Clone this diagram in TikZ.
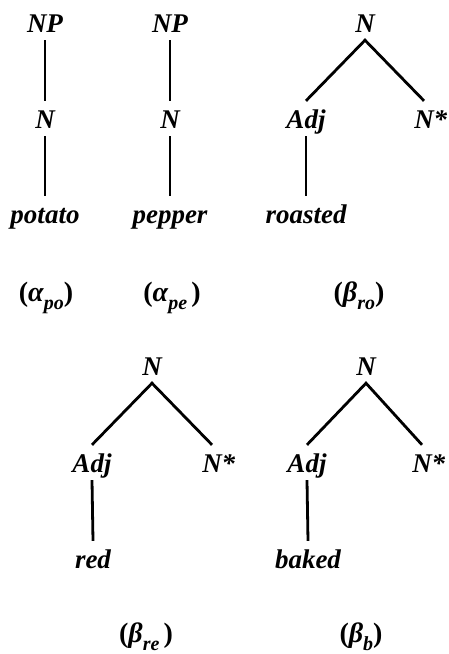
\documentclass[tikz,border=0pt]{standalone}
\usepackage{fontspec}
\setmainfont{Liberation Serif}

\newcommand{\treesub}[1]{\raisebox{-8pt}{\fontsize{20}{20}\selectfont\itshape #1}}

\begin{document}
\begin{tikzpicture}[x=1pt, y=-1pt,
    cat/.style={font=\fontsize{27}{27}\selectfont\bfseries\itshape, anchor=base,
        text height=24pt, text depth=5pt, inner sep=3pt},
    branch/.style={line width=2.8pt},
    tag/.style={font=\fontsize{28}{28}\selectfont\bfseries, anchor=base, inner sep=0pt}]
    \useasboundingbox (0,0) rectangle (449,654);

    % 1. alpha_po
    \node[cat] (np1) at (45,32) {NP};
    \node[cat] (n1) at (45,128) {N};
    \node[cat] (w1) at (45,223) {potato};
    \draw[branch] (np1.south) -- (n1.north);
    \draw[branch] (n1.south) -- (w1.north);
    \node[tag] (t1) at (46,301) {(\textit{α}\treesub{po})};

    % 2. alpha_pe
    \node[cat] (np2) at (170,32) {NP};
    \node[cat] (n2) at (170,128) {N};
    \node[cat] (w2) at (170,223) {pepper};
    \draw[branch] (np2.south) -- (n2.north);
    \draw[branch] (n2.south) -- (w2.north);
    \node[tag] (t2) at (172,301) {(\textit{α}\treesub{pe}\hspace{4pt})};

    % 3. beta_ro
    \node[cat] (n3) at (365,32) {N};
    \node[cat] (adj3) at (306,128) {Adj};
    \node[cat] (ns3) at (424,128) {N\rlap{*}};
    \node[cat] (w3) at (306,223) {roasted};
    \draw[branch] (adj3.north) -- (n3.south) -- (ns3.north);
    \draw[branch] (adj3.south) -- (w3.north);
    \node[tag] (t3) at (359,301) {(\textit{β}\treesub{ro})};

    % 4. beta_re
    \node[cat] (n4) at (152,375) {N};
    \node[cat] (adj4) at (92,472) {Adj};
    \node[cat] (ns4) at (212,472) {N\rlap{*}};
    \node[cat] (w4) at (93,568) {red};
    \draw[branch] (adj4.north) -- (n4.south) -- (ns4.north);
    \draw[branch] (adj4.south) -- (w4.north);
    \node[tag] (t4) at (146,642) {(\textit{β}\treesub{re}\hspace{4pt})};

    % 5. beta_b
    \node[cat] (n5) at (366,375) {N};
    \node[cat] (adj5) at (307,472) {Adj};
    \node[cat] (ns5) at (422,472) {N\rlap{*}};
    \node[cat] (w5) at (308,568) {baked};
    \draw[branch] (adj5.north) -- (n5.south) -- (ns5.north);
    \draw[branch] (adj5.south) -- (w5.north);
    \node[tag] (t5) at (361,642) {(\textit{β}\treesub{b})};
\end{tikzpicture}
\end{document}
